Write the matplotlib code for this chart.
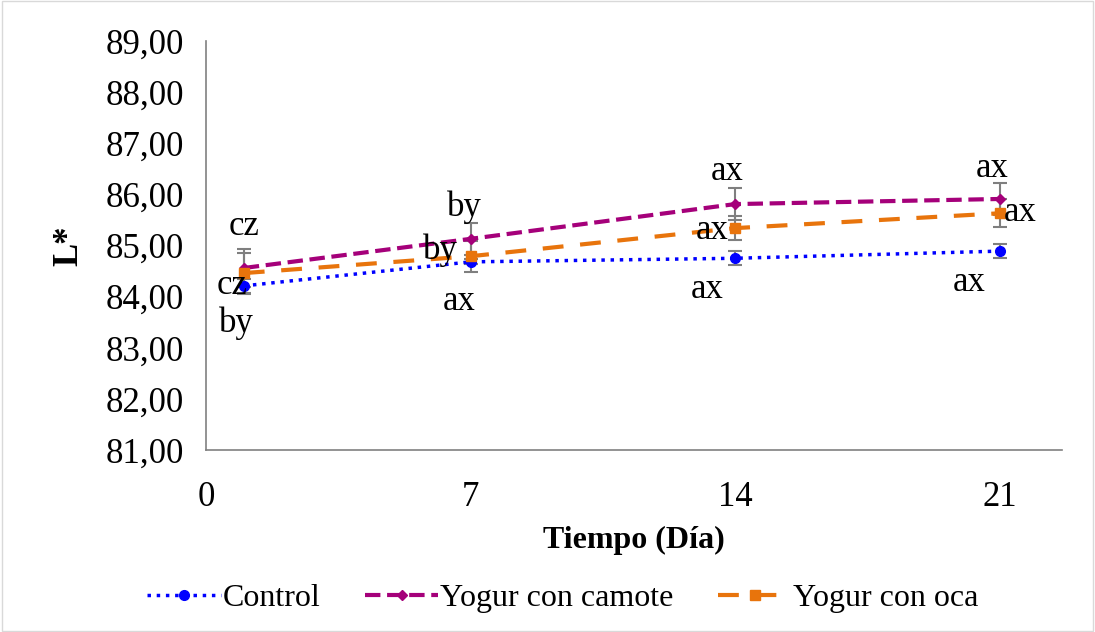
import matplotlib.pyplot as plt
from matplotlib.ticker import FuncFormatter
from matplotlib.lines import Line2D

plt.rcParams['font.family'] = ['Liberation Serif', 'DejaVu Serif']

days = [1, 7, 14, 21]
control = [84.21, 84.68, 84.75, 84.89]
camote = [84.56, 85.13, 85.81, 85.91]
oca = [84.46, 84.79, 85.34, 85.63]
control_err = [0.14, 0.05, 0.14, 0.13]
camote_err = [0.38, 0.31, 0.31, 0.31]
oca_err = [0.40, 0.30, 0.23, 0.27]

# significance letters: (x, y, text)
letters = [
    (1.0, 85.38, "cz"), (0.7, 84.22, "cz"), (0.8, 83.48, "by"),
    (6.85, 85.75, "by"), (6.2, 84.9, "by"), (6.7, 83.9, "ax"),
    (13.8, 86.44, "ax"), (13.4, 85.3, "ax"), (13.25, 84.13, "ax"),
    (20.8, 86.5, "ax"), (21.55, 85.65, "ax"), (20.2, 84.28, "ax"),
]

fs = 25
fig = plt.figure(figsize=(10.95, 6.32), dpi=100)
ax = fig.add_axes([206 / 1095, 1 - 450 / 632, (1062 - 206) / 1095, (450 - 41) / 632])

ebkw = dict(ecolor='#7f7f7f', elinewidth=1.5, capsize=5, capthick=1.5)
styles = [
    ('Control', control, control_err, '#0000ff', ':', 2.5, 'o', 7),
    ('Yogur con camote', camote, camote_err, '#a5007a', '--', 3, 'D', 5),
    ('Yogur con oca', oca, oca_err, '#e8740c', (0, (5, 4)), 3, 's', 7),
]
handles = []
for name, vals, err, c, ls, lw, mk, ms in styles:
    ax.errorbar(days, vals, yerr=err, color=c, ls=ls, lw=lw, marker=mk, ms=ms, **ebkw)
    handles.append(Line2D([], [], color=c, ls=ls, lw=lw, marker=mk, ms=ms, label=name))

for x, y, t in letters:
    ax.text(x, y, t, fontsize=fs, ha='center', va='center')

ax.set_xlim(0, 22.65)
ax.set_ylim(81, 89)
ax.set_xticks([0, 7, 14, 21])
ax.set_yticks(range(81, 90))
ax.yaxis.set_major_formatter(FuncFormatter(lambda v, p: f"{v:.2f}".replace('.', ',')))
ax.tick_params(labelsize=fs, length=0)
ax.tick_params(axis='y', pad=16)
ax.tick_params(axis='x', pad=22)
for s in ['top', 'right']:
    ax.spines[s].set_visible(False)
for s in ['left', 'bottom']:
    ax.spines[s].set_color('#808080')
    ax.spines[s].set_linewidth(1.2)

ax.set_xlabel('Tiempo (Día)', fontsize=23, fontweight='bold', labelpad=9)
ax.set_ylabel('L*', fontsize=fs, fontweight='bold', labelpad=14)

fig.legend(handles=handles, loc='center', bbox_to_anchor=(0.514, 1 - 598 / 632), ncol=3,
           frameon=False, fontsize=23, handlelength=2.3, columnspacing=1.4, handletextpad=0.05)

fig.patches.append(plt.Rectangle((0.002, 0.002), 0.996, 0.996, transform=fig.transFigure,
                                 fill=False, edgecolor='#d9d9d9', lw=1))
fig.savefig('out.png', dpi=100)
